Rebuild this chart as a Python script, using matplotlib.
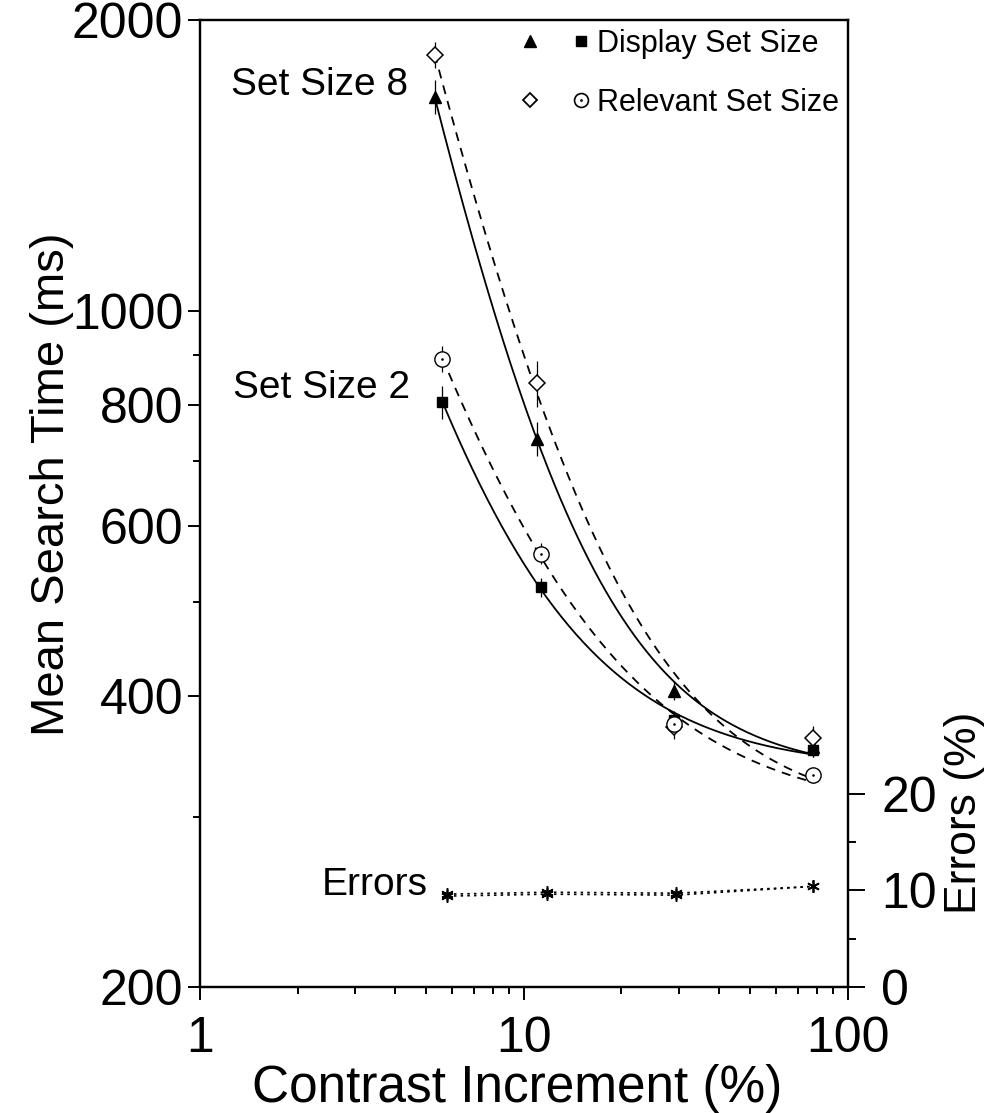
import numpy as np
import matplotlib
matplotlib.use("Agg")
import matplotlib.pyplot as plt
from matplotlib.lines import Line2D
from matplotlib.legend_handler import HandlerTuple
from matplotlib.path import Path
from matplotlib.ticker import FixedLocator, FixedFormatter, NullFormatter, LogLocator

plt.rcParams["font.family"] = ["Liberation Sans", "DejaVu Sans"]

# contrast increments (%)
contrast_8 = [5.3, 11.0, 29.0, 78.0]
contrast_2 = [5.6, 11.3, 29.0, 78.0]
contrast_err = [5.8, 11.8, 29.5, 78.0]

# mean search time (ms)
rt8_display = [1664, 738, 405, 354]
rt8_relevant = [1840, 842, 371, 362]
rt2_display = [805, 518, 378, 352]
rt2_relevant = [893, 561, 374, 331]

# error bar half-lengths (ms)
sd8_display = [67, 30, 9, 8]
sd8_relevant = [57, 46, 10, 10]
sd2_display = [32, 12, 8, 6]
sd2_relevant = [28, 14, 8, 6]

# error rates (%)
errors_2 = [9.6, 9.8, 9.7, 10.4]
errors_8 = [9.4, 9.6, 9.5, 10.4]

y_major = [200, 400, 600, 800, 1000, 2000]
y_minor = [300, 500, 700, 900]
x_major = [1, 10, 100]
x_labels = ["1", "10", "100"]


def fit_curve(x, y):
    # least squares fit of y = a + b * x^-p, p found by grid search
    x = np.asarray(x, float)
    y = np.asarray(y, float)
    best = None
    for p in np.linspace(0.2, 4.0, 381):
        A = np.column_stack([np.ones_like(x), x ** -p])
        coef = np.linalg.lstsq(A, y, rcond=None)[0]
        sse = np.sum((A @ coef - y) ** 2)
        if best is None or sse < best[0]:
            best = (sse, p, coef)
    _, p, (a, b) = best
    xs = np.geomspace(x.min(), x.max(), 200)
    return xs, a + b * xs ** -p


# open circle with a dot in the middle
dot_circle = Path.make_compound_path(Path.unit_circle(), Path.circle((0, 0), 0.08))

fig = plt.figure(figsize=(9.9, 11.13), dpi=100)
ax = fig.add_axes([0.202, 0.1132, 0.6545, 0.869])
ax.set_xscale("log")
ax.set_yscale("log")
ax.set_xlim(1, 100)
ax.set_ylim(200, 2000)

# fitted curves
for x, y, ls in [(contrast_8, rt8_display, "-"), (contrast_8, rt8_relevant, (0, (5, 4))),
                 (contrast_2, rt2_display, "-"), (contrast_2, rt2_relevant, (0, (5, 4)))]:
    xs, ys = fit_curve(x, y)
    ax.plot(xs, ys, color="black", lw=1.3, linestyle=ls, zorder=2)

# error bars
for x, y, e in [(contrast_8, rt8_display, sd8_display), (contrast_8, rt8_relevant, sd8_relevant),
                (contrast_2, rt2_display, sd2_display), (contrast_2, rt2_relevant, sd2_relevant)]:
    ax.errorbar(x, y, yerr=e, fmt="none", ecolor="black", elinewidth=0.9, capsize=0, zorder=3)

ax.plot(contrast_8, rt8_display, "^", color="black", ms=8, ls="none", zorder=4)
ax.plot(contrast_2, rt2_display, "s", color="black", ms=7, ls="none", zorder=4)
ax.plot(contrast_8, rt8_relevant, "D", mfc="white", mec="black", mew=1.1, ms=8, ls="none", zorder=5)
ax.plot(contrast_2, rt2_relevant, marker=dot_circle, mfc="white", mec="black", mew=1.0, ms=11,
        ls="none", zorder=5)

# axis ticks
ax.yaxis.set_major_locator(FixedLocator(y_major))
ax.yaxis.set_major_formatter(FixedFormatter([str(v) for v in y_major]))
ax.yaxis.set_minor_locator(FixedLocator(y_minor))
ax.yaxis.set_minor_formatter(NullFormatter())
ax.xaxis.set_major_locator(FixedLocator(x_major))
ax.xaxis.set_major_formatter(FixedFormatter(x_labels))
ax.xaxis.set_minor_locator(LogLocator(base=10, subs=np.arange(2, 10)))
ax.xaxis.set_minor_formatter(NullFormatter())

ax.tick_params(which="major", length=9, width=1.4, labelsize=36, direction="out", pad=3)
ax.tick_params(which="minor", length=5, width=1.4, direction="out")
ax.tick_params(axis="x", which="major", pad=12)
ax.tick_params(top=False, right=False, which="both")
for s in ax.spines.values():
    s.set_linewidth(1.6)

ax.set_ylabel("Mean Search Time (ms)", fontsize=34)
ax.yaxis.set_label_coords(-0.195, 0.52)
ax.set_xlabel("Contrast Increment (%)", fontsize=37)
ax.xaxis.set_label_coords(0.49, -0.08)

# errors on the right axis
ax2 = ax.twinx()
ax2.set_ylim(0, 100)
ax2.plot(contrast_err, errors_2, color="black", ls=(0, (1.5, 2.5)), lw=1.2,
         marker=(6, 2, 0), ms=9, mew=1.1)
ax2.plot(contrast_err, errors_8, color="black", ls=(0, (1.5, 2.5)), lw=1.2,
         marker=(6, 2, 0), ms=9, mew=1.1)
ax2.yaxis.set_major_locator(FixedLocator([0, 10, 20]))
ax2.yaxis.set_minor_locator(FixedLocator([5, 15]))
ax2.yaxis.set_minor_formatter(NullFormatter())
ax2.tick_params(which="major", length=12, width=1.4, labelsize=36, pad=12)
ax2.tick_params(which="minor", length=6, width=1.4)
for s in ax2.spines.values():
    s.set_linewidth(1.6)
ax2.set_ylabel("Errors (%)", fontsize=32)
ax2.yaxis.set_label_coords(1.148, 0.18)

# annotations
ax.text(0.185, 0.933, "Set Size 8", transform=ax.transAxes, fontsize=28, ha="center", va="center")
ax.text(0.188, 0.619, "Set Size 2", transform=ax.transAxes, fontsize=28, ha="center", va="center")
ax.text(0.27, 0.105, "Errors", transform=ax.transAxes, fontsize=28, ha="center", va="center")

# legend
tri = Line2D([], [], marker="^", color="black", ls="none", ms=8)
sq = Line2D([], [], marker="s", color="black", ls="none", ms=7)
dia = Line2D([], [], marker="D", mfc="white", mec="black", mew=1.3, ls="none", ms=7)
circ = Line2D([], [], marker=dot_circle, mfc="white", mec="black", mew=1.2, ls="none", ms=10)
ax.legend([(tri, sq), (dia, circ)], ["Display Set Size", "Relevant Set Size"],
          handler_map={tuple: HandlerTuple(ndivide=None, pad=1.0)},
          loc="upper right", frameon=False, fontsize=22, handlelength=2.4,
          handletextpad=0.15, labelspacing=0.95, borderaxespad=0.1, borderpad=0.2)

fig.savefig("out.png", dpi=100)
